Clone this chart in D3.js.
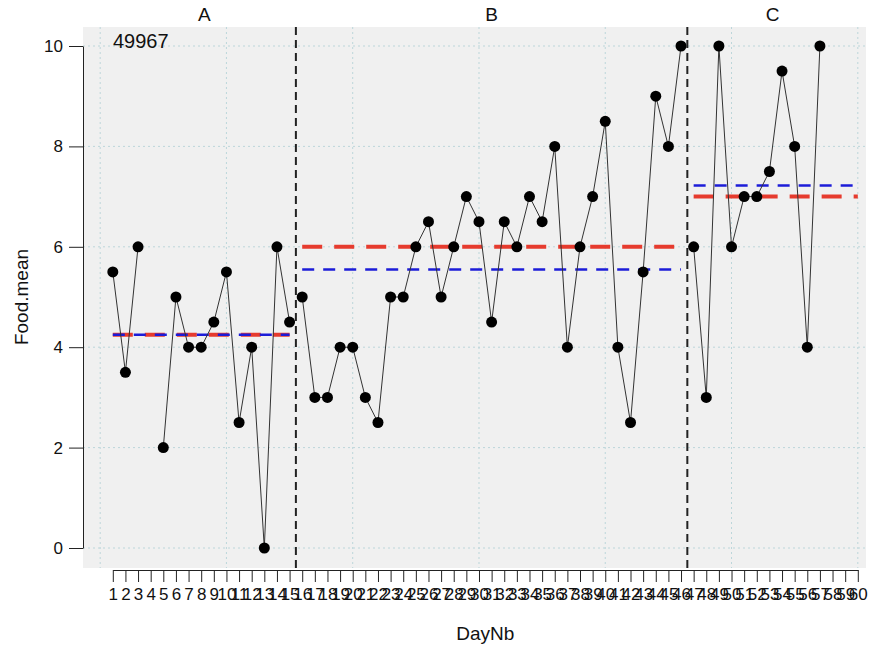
<!DOCTYPE html>
<html>
<head>
<meta charset="utf-8">
<script src="https://cdn.jsdelivr.net/npm/d3@7"></script>
<style>
  body { margin: 0; background: #fff; }
  text { font-family: "Liberation Sans", Arial, Helvetica, sans-serif; fill: #111; }
</style>
</head>
<body>
<div id="chart"></div>
<script>
// Food.mean per day (null = no observation)
const foodMean = [
  5.5, 3.5, 6, null, 2, 5, 4, 4, 4.5, 5.5, 2.5, 4, 0, 6, 4.5,
  5, 3, 3, 4, 4, 3, 2.5, 5, 5, 6, 6.5, 5, 6, 7, 6.5, 4.5, 6.5, 6, 7, 6.5, 8, 4, 6, 7, 8.5, 4, 2.5, 5.5, 9, 8, 10,
  6, 3, 10, 6, 7, 7, 7.5, 9.5, 8, 4, 10, null, null, null
];
const days = foodMean.map((v, i) => i + 1);

const phases = ["A", "B", "C"];
const phaseStart = [1, 16, 47];
const phaseEnd = [15, 46, 60];
const redLevel = [4.25, 6, 7];
const blueLevel = [4.25, 5.55, 7.22];
const yTicks = [0, 2, 4, 6, 8, 10];
const gridDays = [0, 10, 20, 30, 40, 50, 60];
const caseId = "49967";

const width = 880;
const height = 648;
const panel = { left: 83, top: 27, right: 866, bottom: 568 };

const svg = d3.select("#chart").append("svg").attr("width", width).attr("height", height);

const x = d3.scaleLinear().domain([1, 60]).range([112.8, 857.8]);
const y = d3.scaleLinear().domain([0, 10]).range([548, 46]);

// panel background
svg.append("rect")
  .attr("x", panel.left).attr("y", panel.top)
  .attr("width", panel.right - panel.left).attr("height", panel.bottom - panel.top)
  .attr("fill", "#f0f0f0");

// dotted grid
const grid = svg.append("g").attr("stroke", "#bcd6da").attr("stroke-width", 1).attr("stroke-dasharray", "2,3");
grid.selectAll("line.v").data(gridDays).enter().append("line")
  .attr("x1", d => x(d)).attr("x2", d => x(d))
  .attr("y1", panel.top).attr("y2", panel.bottom);
grid.selectAll("line.h").data(yTicks).enter().append("line")
  .attr("x1", panel.left).attr("x2", panel.right)
  .attr("y1", d => y(d)).attr("y2", d => y(d));

// axes
const yAxis = svg.append("g")
  .attr("transform", `translate(${panel.left},0)`)
  .call(d3.axisLeft(y).tickValues(yTicks).tickSize(14).tickSizeOuter(0).tickPadding(6));
yAxis.selectAll("text").style("font-size", "17px");

const xAxis = svg.append("g")
  .attr("transform", `translate(0,${panel.bottom + 2})`)
  .call(d3.axisBottom(x).tickValues(days).tickFormat(d3.format("d")).tickSize(12).tickSizeOuter(0).tickPadding(6));
xAxis.selectAll("text").style("font-size", "17px");
svg.selectAll(".domain, .tick line").attr("stroke", "#222");

// phase dividers
const dividers = phaseStart.slice(1).map(d => d - 0.5);
svg.selectAll("line.divider").data(dividers).enter().append("line")
  .attr("class", "divider")
  .attr("x1", d => x(d)).attr("x2", d => x(d))
  .attr("y1", panel.top).attr("y2", panel.bottom)
  .attr("stroke", "#222").attr("stroke-width", 2).attr("stroke-dasharray", "8,5");

// phase level lines
phases.forEach((p, i) => {
  svg.append("line")
    .attr("x1", x(phaseStart[i])).attr("x2", x(phaseEnd[i]))
    .attr("y1", y(redLevel[i])).attr("y2", y(redLevel[i]))
    .attr("stroke", "#e63b2e").attr("stroke-width", 4).attr("stroke-dasharray", "20,12");
  svg.append("line")
    .attr("x1", x(phaseStart[i])).attr("x2", x(phaseEnd[i]))
    .attr("y1", y(blueLevel[i])).attr("y2", y(blueLevel[i]))
    .attr("stroke", "#1c1cd8").attr("stroke-width", 2.5).attr("stroke-dasharray", "12,9");
});

// series, broken at phase changes and missing days
const points = days.map((d, i) => ({ day: d, v: foodMean[i], phase: phaseStart.filter(s => s <= d).length - 1 }));
const line = d3.line().defined(d => d.v != null).x(d => x(d.day)).y(d => y(d.v));
phases.forEach((p, i) => {
  svg.append("path")
    .datum(points.filter(d => d.phase === i))
    .attr("d", line)
    .attr("fill", "none").attr("stroke", "#333").attr("stroke-width", 1);
});
svg.selectAll("circle.pt").data(points.filter(d => d.v != null)).enter().append("circle")
  .attr("class", "pt")
  .attr("cx", d => x(d.day)).attr("cy", d => y(d.v)).attr("r", 5.5)
  .attr("fill", "#000");

// phase labels
const bounds = [x(phaseStart[0])].concat(dividers.map(x), [x(phaseEnd[2])]);
svg.selectAll("text.phase").data(phases).enter().append("text")
  .attr("class", "phase")
  .attr("x", (d, i) => (bounds[i] + bounds[i + 1]) / 2).attr("y", 21)
  .attr("text-anchor", "middle").style("font-size", "19px")
  .text(d => d);

svg.append("text").attr("x", 113).attr("y", 48).style("font-size", "20px").text(caseId);

// axis titles
svg.append("text")
  .attr("transform", `translate(28,${(y(0) + y(10)) / 2}) rotate(-90)`)
  .attr("text-anchor", "middle").style("font-size", "19px")
  .text("Food.mean");
svg.append("text")
  .attr("x", (x(1) + x(60)) / 2).attr("y", 640)
  .attr("text-anchor", "middle").style("font-size", "19px")
  .text("DayNb");
</script>
</body>
</html>
